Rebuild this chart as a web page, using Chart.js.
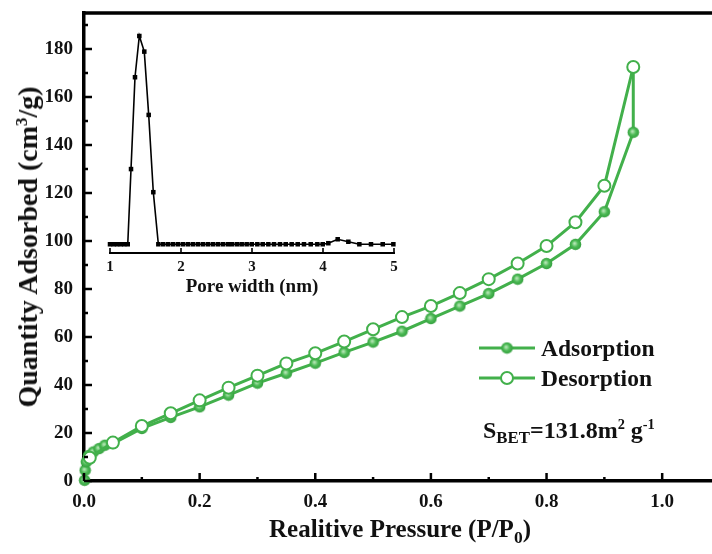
<!DOCTYPE html>
<html>
<head>
<meta charset="utf-8">
<script src="https://cdn.jsdelivr.net/npm/chart.js@4/dist/chart.umd.min.js"></script>
<style>
  html, body { margin: 0; padding: 0; background: #fff; overflow: hidden; }
  #wrap { position: relative; width: 712px; height: 554px; overflow: hidden; }
  canvas { display: block; }
  #inset { position: absolute; left: 100px; top: 20px; }
  .txt { position: absolute; font-family: 'Liberation Serif', 'Times New Roman', serif; font-weight: bold; color: #111; white-space: nowrap; line-height: 1; }
  .sub { font-size: 0.7em; position: relative; top: 0.32em; }
  .sup { font-size: 0.6em; position: relative; top: -0.62em; }
  #ytitle { left: 28px; top: 247px; font-size: 28px; transform: translate(-50%, -50%) rotate(-90deg); }
  #xtitle { left: 400px; top: 528px; font-size: 25px; transform: translate(-50%, -50%); }
  .leg { left: 541px; font-size: 23.5px; }
  #sbet { left: 483px; top: 418px; font-size: 24px; }
</style>
</head>
<body>
<div id="wrap">
  <canvas id="main" width="729" height="554"></canvas>
  <canvas id="inset" width="305" height="290"></canvas>
  <div class="txt" id="ytitle">Quantity Adsorbed (cm<span class="sup">3</span>/g)</div>
  <div class="txt" id="xtitle">Realitive Pressure (P/P<span class="sub">0</span>)</div>
  <div class="txt leg" style="top:337px">Adsorption</div>
  <div class="txt leg" style="top:367px">Desorption</div>
  <div class="txt" id="sbet">S<span class="sub">BET</span>=131.8m<span class="sup">2</span> g<span class="sup">-1</span></div>
</div>
<script>
// isotherm, relative pressure P/P0 vs quantity adsorbed (cm3/g)
const adsP = [0.001, 0.002, 0.004, 0.008, 0.016, 0.026, 0.036, 0.05, 0.10, 0.15, 0.20, 0.25, 0.30, 0.35, 0.40, 0.45, 0.50, 0.55, 0.60, 0.65, 0.70, 0.75, 0.80, 0.85, 0.90, 0.95, 0.95];
const adsQ = [0.3, 4.5, 8.0, 10.6, 12.1, 13.5, 14.9, 15.6, 21.9, 26.5, 30.9, 35.8, 40.8, 44.9, 49.1, 53.6, 57.9, 62.4, 67.7, 72.9, 78.1, 84.1, 90.6, 98.6, 112.2, 145.3, 172.5];
const desP = [0.95, 0.90, 0.85, 0.80, 0.75, 0.70, 0.65, 0.60, 0.55, 0.50, 0.45, 0.40, 0.35, 0.30, 0.25, 0.20, 0.15, 0.10, 0.05, 0.01];
const desQ = [172.5, 123.0, 107.8, 97.9, 90.6, 84.1, 78.3, 72.9, 68.3, 63.2, 58.1, 53.2, 49.0, 43.9, 38.9, 33.6, 28.2, 22.9, 16.0, 9.7];

// inset: pore size distribution (relative units)
const poreW = [1.00, 1.05, 1.10, 1.15, 1.20, 1.25, 1.296, 1.352, 1.413, 1.483, 1.545, 1.61, 1.681, 1.75, 1.82, 1.89, 1.96, 2.03, 2.10, 2.17, 2.24, 2.31, 2.38, 2.45, 2.52, 2.59, 2.66, 2.72, 2.79, 2.855, 2.925, 2.996, 3.075, 3.151, 3.23, 3.31, 3.394, 3.475, 3.559, 3.644, 3.732, 3.827, 3.92, 3.996, 4.075, 4.207, 4.357, 4.512, 4.676, 4.841, 4.991];
const poreV = [0, 0, 0, 0, 0, 0, 0.361, 0.802, 1.0, 0.925, 0.621, 0.25, 0, 0, 0, 0, 0, 0, 0, 0, 0, 0, 0, 0, 0, 0, 0, 0, 0, 0, 0, 0, 0, 0, 0, 0, 0, 0, 0, 0, 0, 0, 0, 0, 0.005, 0.024, 0.012, 0, 0, 0, 0];

const xTicks = [0, 0.2, 0.4, 0.6, 0.8, 1.0];
const yTicks = [0, 20, 40, 60, 80, 100, 120, 140, 160, 180];
const insetTicks = [1, 2, 3, 4, 5];

const GREEN = '#42b04b';
const serif = "'Liberation Serif', 'Times New Roman', serif";

// filled "ball" marker for adsorption
const ball = document.createElement('canvas');
ball.width = ball.height = 13;
{
  const b = ball.getContext('2d');
  const g = b.createRadialGradient(5.5, 5.5, 0.5, 6.5, 6.5, 6.5);
  g.addColorStop(0, '#b5e6b5');
  g.addColorStop(0.45, '#4cba55');
  g.addColorStop(1, '#2f9a39');
  b.fillStyle = g;
  b.beginPath();
  b.arc(6.5, 6.5, 5.8, 0, Math.PI * 2);
  b.fill();
}

const toXY = (xs, ys) => xs.map((x, i) => ({ x, y: ys[i] }));

// inward ticks, top frame and legend markers
const framePlugin = {
  id: 'frame',
  afterDraw(chart) {
    const { ctx, chartArea: a } = chart;
    const xs = chart.scales.x, ys = chart.scales.y;
    ctx.save();
    ctx.strokeStyle = '#000';
    ctx.lineWidth = 3.5;
    ctx.beginPath();
    ctx.moveTo(a.left - 1.5, a.top);
    ctx.lineTo(a.right, a.top);
    ctx.lineTo(a.right, a.bottom);
    ctx.stroke();

    ctx.lineWidth = 2.5;
    for (let v = 0; v <= 190; v += 10) {
      const y = ys.getPixelForValue(v);
      const len = yTicks.includes(v) ? 8 : 4;
      ctx.beginPath();
      ctx.moveTo(a.left, y);
      ctx.lineTo(a.left + len, y);
      ctx.stroke();
    }
    for (let i = 0; i <= 10; i++) {
      const x = xs.getPixelForValue(i / 10);
      const len = i % 2 === 0 ? 8 : 4;
      ctx.beginPath();
      ctx.moveTo(x, a.bottom);
      ctx.lineTo(x, a.bottom - len);
      ctx.stroke();
    }

    // legend samples
    ctx.strokeStyle = GREEN;
    ctx.lineWidth = 3;
    [348, 378].forEach(y => {
      ctx.beginPath();
      ctx.moveTo(479, y);
      ctx.lineTo(535, y);
      ctx.stroke();
    });
    ctx.drawImage(ball, 507 - 6.5, 348 - 6.5);
    ctx.fillStyle = '#fff';
    ctx.lineWidth = 2;
    ctx.beginPath();
    ctx.arc(507, 378, 6, 0, Math.PI * 2);
    ctx.fill();
    ctx.stroke();
    ctx.restore();
  }
};

new Chart(document.getElementById('main'), {
  type: 'scatter',
  data: {
    datasets: [
      {
        label: 'Desorption',
        data: toXY(desP, desQ),
        showLine: true,
        borderColor: GREEN,
        borderWidth: 3,
        backgroundColor: '#fff',
        pointRadius: 6,
        pointBorderWidth: 2,
        pointBorderColor: GREEN,
        order: 0
      },
      {
        label: 'Adsorption',
        data: toXY(adsP, adsQ),
        showLine: true,
        borderColor: GREEN,
        borderWidth: 3,
        pointStyle: ball,
        // last point is the turn-over, marked by the desorption circle
        pointRadius: ctx => (ctx.dataIndex === adsP.length - 1 ? 0 : 6),
        order: 1
      }
    ]
  },
  options: {
    responsive: false,
    animation: false,
    clip: false,
    layout: { padding: { top: 13, right: 2.5, left: 0, bottom: 0 } },
    plugins: { legend: { display: false }, tooltip: { enabled: false } },
    scales: {
      x: {
        type: 'linear',
        min: 0,
        max: 1.1,
        afterFit: s => { s.height = 73; s.paddingLeft = 0; s.paddingRight = 0; },
        afterBuildTicks: s => { s.ticks = xTicks.map(v => ({ value: v })); },
        grid: { display: false, drawTicks: false },
        border: { display: true, width: 3.5, color: '#000' },
        ticks: {
          padding: 10,
          color: '#111',
          font: { family: serif, size: 19, weight: 'bold' },
          callback: v => Number(v).toFixed(1)
        }
      },
      y: {
        min: 0,
        max: 195,
        afterFit: s => { s.width = 84; s.paddingTop = 0; s.paddingBottom = 0; },
        afterBuildTicks: s => { s.ticks = yTicks.map(v => ({ value: v })); },
        grid: { display: false, drawTicks: false },
        border: { display: true, width: 3.5, color: '#000' },
        ticks: {
          padding: 11,
          color: '#111',
          font: { family: serif, size: 19, weight: 'bold' }
        }
      }
    }
  },
  plugins: [framePlugin]
});

// upward tick marks on the inset axis
const insetTickPlugin = {
  id: 'insetTicks',
  afterDraw(chart) {
    const { ctx, chartArea: a } = chart;
    const xs = chart.scales.x;
    ctx.save();
    ctx.strokeStyle = '#000';
    ctx.lineWidth = 1.6;
    insetTicks.forEach(v => {
      const x = xs.getPixelForValue(v);
      ctx.beginPath();
      ctx.moveTo(x, a.bottom);
      ctx.lineTo(x, a.bottom - 5);
      ctx.stroke();
    });
    ctx.restore();
  }
};

new Chart(document.getElementById('inset'), {
  type: 'scatter',
  data: {
    datasets: [{
      data: toXY(poreW, poreV),
      showLine: true,
      borderColor: '#000',
      borderWidth: 1.6,
      backgroundColor: '#000',
      pointStyle: 'rect',
      pointRadius: 3.2,
      pointBorderWidth: 0
    }]
  },
  options: {
    responsive: false,
    animation: false,
    clip: false,
    layout: { padding: { top: 6, right: 11, left: 10, bottom: 12 } },
    plugins: { legend: { display: false }, tooltip: { enabled: false } },
    scales: {
      x: {
        type: 'linear',
        min: 1,
        max: 5,
        afterFit: s => { s.height = 45; s.paddingLeft = 0; s.paddingRight = 0; },
        afterBuildTicks: s => { s.ticks = insetTicks.map(v => ({ value: v })); },
        grid: { display: false, drawTicks: false },
        border: { display: true, width: 2, color: '#000' },
        ticks: {
          padding: 5,
          color: '#111',
          font: { family: serif, size: 15, weight: 'bold' }
        },
        title: {
          display: true,
          text: 'Pore width (nm)',
          color: '#111',
          padding: 0,
          font: { family: serif, size: 19, weight: 'bold' }
        }
      },
      y: { display: false, min: -0.042, max: 1.048 }
    }
  },
  plugins: [insetTickPlugin]
});
</script>
</body>
</html>
